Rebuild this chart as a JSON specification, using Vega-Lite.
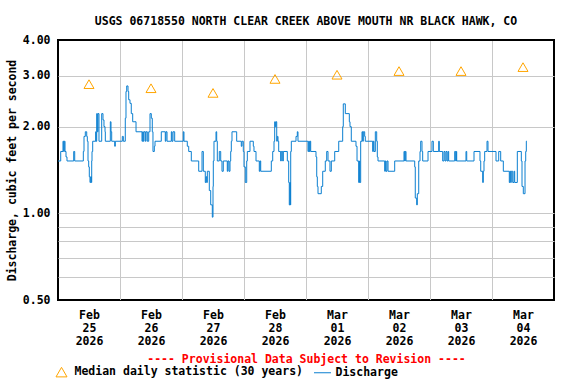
{
  "$schema": "https://vega.github.io/schema/vega-lite/v6.json",
  "width": 496,
  "height": 260,
  "autosize": {"type": "none"},
  "padding": {"left": 58, "top": 40, "right": 22, "bottom": 84},
  "background": "white",
  "config": {
    "view": {"stroke": "black", "strokeWidth": 2},
    "font": "DejaVu Sans Mono",
    "legend": {
      "orient": "none",
      "legendX": -2.5,
      "legendY": 326,
      "direction": "horizontal",
      "padding": 0,
      "labelFont": "DejaVu Sans Mono",
      "labelFontSize": 11.5,
      "labelFontWeight": "bold",
      "labelColor": "black",
      "labelOffset": 7,
      "labelLimit": 400,
      "columnPadding": 8,
      "symbolSize": 289,
      "symbolStrokeWidth": 1
    }
  },
  "title": {
    "text": "USGS 06718550 NORTH CLEAR CREEK ABOVE MOUTH NR BLACK HAWK, CO",
    "font": "DejaVu Sans Mono",
    "fontSize": 11.5,
    "fontWeight": "bold",
    "color": "black",
    "anchor": "middle",
    "offset": 7
  },
  "datasets": {
    "median": [
      {"t": "2026-02-25T12:00", "q": 2.81, "s": "Median daily statistic (30 years)"},
      {"t": "2026-02-26T12:00", "q": 2.72, "s": "Median daily statistic (30 years)"},
      {"t": "2026-02-27T12:00", "q": 2.62, "s": "Median daily statistic (30 years)"},
      {"t": "2026-02-28T12:00", "q": 2.93, "s": "Median daily statistic (30 years)"},
      {"t": "2026-03-01T12:00", "q": 3.03, "s": "Median daily statistic (30 years)"},
      {"t": "2026-03-02T12:00", "q": 3.12, "s": "Median daily statistic (30 years)"},
      {"t": "2026-03-03T12:00", "q": 3.12, "s": "Median daily statistic (30 years)"},
      {"t": "2026-03-04T12:00", "q": 3.22, "s": "Median daily statistic (30 years)"}
    ],
    "discharge": [
      {"t": "2026-02-25T00:00", "q": 1.52, "s": "Discharge"},
      {"t": "2026-02-25T01:03", "q": 1.64, "s": "Discharge"},
      {"t": "2026-02-25T01:56", "q": 1.78, "s": "Discharge"},
      {"t": "2026-02-25T02:12", "q": 1.64, "s": "Discharge"},
      {"t": "2026-02-25T02:26", "q": 1.78, "s": "Discharge"},
      {"t": "2026-02-25T02:43", "q": 1.64, "s": "Discharge"},
      {"t": "2026-02-25T03:06", "q": 1.57, "s": "Discharge"},
      {"t": "2026-02-25T03:29", "q": 1.52, "s": "Discharge"},
      {"t": "2026-02-25T06:05", "q": 1.64, "s": "Discharge"},
      {"t": "2026-02-25T06:28", "q": 1.52, "s": "Discharge"},
      {"t": "2026-02-25T09:48", "q": 1.64, "s": "Discharge"},
      {"t": "2026-02-25T10:04", "q": 1.85, "s": "Discharge"},
      {"t": "2026-02-25T10:34", "q": 1.92, "s": "Discharge"},
      {"t": "2026-02-25T11:07", "q": 1.85, "s": "Discharge"},
      {"t": "2026-02-25T11:21", "q": 1.78, "s": "Discharge"},
      {"t": "2026-02-25T11:37", "q": 1.52, "s": "Discharge"},
      {"t": "2026-02-25T11:53", "q": 1.45, "s": "Discharge"},
      {"t": "2026-02-25T12:07", "q": 1.34, "s": "Discharge"},
      {"t": "2026-02-25T12:23", "q": 1.28, "s": "Discharge"},
      {"t": "2026-02-25T12:40", "q": 1.34, "s": "Discharge"},
      {"t": "2026-02-25T12:53", "q": 1.28, "s": "Discharge"},
      {"t": "2026-02-25T13:03", "q": 1.52, "s": "Discharge"},
      {"t": "2026-02-25T13:10", "q": 1.64, "s": "Discharge"},
      {"t": "2026-02-25T13:26", "q": 1.78, "s": "Discharge"},
      {"t": "2026-02-25T14:36", "q": 1.92, "s": "Discharge"},
      {"t": "2026-02-25T14:43", "q": 1.78, "s": "Discharge"},
      {"t": "2026-02-25T14:59", "q": 2.22, "s": "Discharge"},
      {"t": "2026-02-25T15:13", "q": 1.92, "s": "Discharge"},
      {"t": "2026-02-25T15:29", "q": 2.22, "s": "Discharge"},
      {"t": "2026-02-25T15:52", "q": 1.78, "s": "Discharge"},
      {"t": "2026-02-25T16:55", "q": 2.22, "s": "Discharge"},
      {"t": "2026-02-25T17:25", "q": 2.11, "s": "Discharge"},
      {"t": "2026-02-25T17:48", "q": 2.0, "s": "Discharge"},
      {"t": "2026-02-25T18:12", "q": 1.92, "s": "Discharge"},
      {"t": "2026-02-25T18:19", "q": 1.78, "s": "Discharge"},
      {"t": "2026-02-25T20:15", "q": 2.08, "s": "Discharge"},
      {"t": "2026-02-25T20:31", "q": 1.92, "s": "Discharge"},
      {"t": "2026-02-25T20:47", "q": 1.78, "s": "Discharge"},
      {"t": "2026-02-25T21:57", "q": 1.71, "s": "Discharge"},
      {"t": "2026-02-25T22:11", "q": 1.78, "s": "Discharge"},
      {"t": "2026-02-26T00:53", "q": 1.85, "s": "Discharge"},
      {"t": "2026-02-26T01:17", "q": 1.78, "s": "Discharge"},
      {"t": "2026-02-26T02:03", "q": 2.14, "s": "Discharge"},
      {"t": "2026-02-26T02:19", "q": 2.65, "s": "Discharge"},
      {"t": "2026-02-26T02:36", "q": 2.77, "s": "Discharge"},
      {"t": "2026-02-26T03:06", "q": 2.65, "s": "Discharge"},
      {"t": "2026-02-26T03:22", "q": 2.48, "s": "Discharge"},
      {"t": "2026-02-26T03:52", "q": 2.41, "s": "Discharge"},
      {"t": "2026-02-26T04:22", "q": 2.22, "s": "Discharge"},
      {"t": "2026-02-26T04:55", "q": 2.08, "s": "Discharge"},
      {"t": "2026-02-26T06:12", "q": 1.92, "s": "Discharge"},
      {"t": "2026-02-26T08:31", "q": 1.78, "s": "Discharge"},
      {"t": "2026-02-26T08:47", "q": 1.92, "s": "Discharge"},
      {"t": "2026-02-26T09:01", "q": 1.78, "s": "Discharge"},
      {"t": "2026-02-26T09:17", "q": 1.92, "s": "Discharge"},
      {"t": "2026-02-26T09:48", "q": 1.78, "s": "Discharge"},
      {"t": "2026-02-26T10:04", "q": 1.92, "s": "Discharge"},
      {"t": "2026-02-26T10:34", "q": 1.78, "s": "Discharge"},
      {"t": "2026-02-26T11:07", "q": 1.92, "s": "Discharge"},
      {"t": "2026-02-26T11:37", "q": 2.22, "s": "Discharge"},
      {"t": "2026-02-26T12:07", "q": 2.14, "s": "Discharge"},
      {"t": "2026-02-26T12:30", "q": 1.92, "s": "Discharge"},
      {"t": "2026-02-26T12:46", "q": 1.64, "s": "Discharge"},
      {"t": "2026-02-26T13:17", "q": 1.71, "s": "Discharge"},
      {"t": "2026-02-26T13:33", "q": 1.78, "s": "Discharge"},
      {"t": "2026-02-26T15:59", "q": 1.92, "s": "Discharge"},
      {"t": "2026-02-26T17:32", "q": 1.78, "s": "Discharge"},
      {"t": "2026-02-26T17:48", "q": 1.92, "s": "Discharge"},
      {"t": "2026-02-26T18:12", "q": 1.78, "s": "Discharge"},
      {"t": "2026-02-26T19:52", "q": 1.92, "s": "Discharge"},
      {"t": "2026-02-26T20:08", "q": 1.78, "s": "Discharge"},
      {"t": "2026-02-26T20:31", "q": 1.92, "s": "Discharge"},
      {"t": "2026-02-26T21:10", "q": 1.78, "s": "Discharge"},
      {"t": "2026-02-27T00:30", "q": 1.92, "s": "Discharge"},
      {"t": "2026-02-27T00:46", "q": 1.78, "s": "Discharge"},
      {"t": "2026-02-27T02:03", "q": 1.71, "s": "Discharge"},
      {"t": "2026-02-27T02:36", "q": 1.64, "s": "Discharge"},
      {"t": "2026-02-27T03:36", "q": 1.52, "s": "Discharge"},
      {"t": "2026-02-27T06:28", "q": 1.4, "s": "Discharge"},
      {"t": "2026-02-27T07:45", "q": 1.64, "s": "Discharge"},
      {"t": "2026-02-27T08:15", "q": 1.4, "s": "Discharge"},
      {"t": "2026-02-27T09:01", "q": 1.28, "s": "Discharge"},
      {"t": "2026-02-27T09:17", "q": 1.34, "s": "Discharge"},
      {"t": "2026-02-27T09:34", "q": 1.28, "s": "Discharge"},
      {"t": "2026-02-27T09:48", "q": 1.4, "s": "Discharge"},
      {"t": "2026-02-27T10:34", "q": 1.2, "s": "Discharge"},
      {"t": "2026-02-27T11:07", "q": 1.07, "s": "Discharge"},
      {"t": "2026-02-27T11:44", "q": 0.97, "s": "Discharge"},
      {"t": "2026-02-27T12:00", "q": 1.24, "s": "Discharge"},
      {"t": "2026-02-27T12:07", "q": 1.52, "s": "Discharge"},
      {"t": "2026-02-27T12:23", "q": 1.78, "s": "Discharge"},
      {"t": "2026-02-27T13:10", "q": 1.92, "s": "Discharge"},
      {"t": "2026-02-27T13:26", "q": 1.78, "s": "Discharge"},
      {"t": "2026-02-27T13:40", "q": 1.52, "s": "Discharge"},
      {"t": "2026-02-27T14:26", "q": 1.64, "s": "Discharge"},
      {"t": "2026-02-27T14:59", "q": 1.52, "s": "Discharge"},
      {"t": "2026-02-27T15:29", "q": 1.4, "s": "Discharge"},
      {"t": "2026-02-27T15:59", "q": 1.52, "s": "Discharge"},
      {"t": "2026-02-27T17:32", "q": 1.4, "s": "Discharge"},
      {"t": "2026-02-27T17:48", "q": 1.52, "s": "Discharge"},
      {"t": "2026-02-27T18:12", "q": 1.4, "s": "Discharge"},
      {"t": "2026-02-27T18:35", "q": 1.52, "s": "Discharge"},
      {"t": "2026-02-27T18:51", "q": 1.64, "s": "Discharge"},
      {"t": "2026-02-27T19:05", "q": 1.78, "s": "Discharge"},
      {"t": "2026-02-27T19:21", "q": 1.92, "s": "Discharge"},
      {"t": "2026-02-27T21:10", "q": 1.78, "s": "Discharge"},
      {"t": "2026-02-27T22:57", "q": 1.71, "s": "Discharge"},
      {"t": "2026-02-27T23:14", "q": 1.78, "s": "Discharge"},
      {"t": "2026-02-27T23:44", "q": 1.64, "s": "Discharge"},
      {"t": "2026-02-28T00:00", "q": 1.45, "s": "Discharge"},
      {"t": "2026-02-28T00:30", "q": 1.28, "s": "Discharge"},
      {"t": "2026-02-28T01:03", "q": 1.52, "s": "Discharge"},
      {"t": "2026-02-28T01:17", "q": 1.64, "s": "Discharge"},
      {"t": "2026-02-28T02:19", "q": 1.78, "s": "Discharge"},
      {"t": "2026-02-28T03:36", "q": 1.71, "s": "Discharge"},
      {"t": "2026-02-28T03:52", "q": 1.64, "s": "Discharge"},
      {"t": "2026-02-28T04:39", "q": 1.52, "s": "Discharge"},
      {"t": "2026-02-28T05:55", "q": 1.4, "s": "Discharge"},
      {"t": "2026-02-28T06:12", "q": 1.52, "s": "Discharge"},
      {"t": "2026-02-28T06:28", "q": 1.4, "s": "Discharge"},
      {"t": "2026-02-28T10:34", "q": 1.52, "s": "Discharge"},
      {"t": "2026-02-28T11:07", "q": 1.64, "s": "Discharge"},
      {"t": "2026-02-28T11:37", "q": 1.78, "s": "Discharge"},
      {"t": "2026-02-28T11:53", "q": 2.08, "s": "Discharge"},
      {"t": "2026-02-28T12:07", "q": 2.0, "s": "Discharge"},
      {"t": "2026-02-28T12:23", "q": 2.08, "s": "Discharge"},
      {"t": "2026-02-28T12:40", "q": 1.78, "s": "Discharge"},
      {"t": "2026-02-28T12:53", "q": 1.85, "s": "Discharge"},
      {"t": "2026-02-28T13:10", "q": 1.78, "s": "Discharge"},
      {"t": "2026-02-28T13:26", "q": 1.64, "s": "Discharge"},
      {"t": "2026-02-28T14:12", "q": 1.52, "s": "Discharge"},
      {"t": "2026-02-28T14:26", "q": 1.64, "s": "Discharge"},
      {"t": "2026-02-28T14:59", "q": 1.52, "s": "Discharge"},
      {"t": "2026-02-28T15:13", "q": 1.64, "s": "Discharge"},
      {"t": "2026-02-28T16:46", "q": 1.52, "s": "Discharge"},
      {"t": "2026-02-28T17:18", "q": 1.28, "s": "Discharge"},
      {"t": "2026-02-28T17:32", "q": 1.07, "s": "Discharge"},
      {"t": "2026-02-28T17:49", "q": 1.28, "s": "Discharge"},
      {"t": "2026-02-28T17:55", "q": 1.07, "s": "Discharge"},
      {"t": "2026-02-28T18:05", "q": 1.64, "s": "Discharge"},
      {"t": "2026-02-28T18:19", "q": 1.78, "s": "Discharge"},
      {"t": "2026-02-28T20:08", "q": 1.85, "s": "Discharge"},
      {"t": "2026-02-28T20:38", "q": 1.92, "s": "Discharge"},
      {"t": "2026-02-28T20:54", "q": 1.78, "s": "Discharge"},
      {"t": "2026-03-01T00:46", "q": 1.64, "s": "Discharge"},
      {"t": "2026-03-01T01:03", "q": 1.78, "s": "Discharge"},
      {"t": "2026-03-01T01:17", "q": 1.64, "s": "Discharge"},
      {"t": "2026-03-01T01:33", "q": 1.78, "s": "Discharge"},
      {"t": "2026-03-01T01:49", "q": 1.64, "s": "Discharge"},
      {"t": "2026-03-01T03:52", "q": 1.57, "s": "Discharge"},
      {"t": "2026-03-01T04:09", "q": 1.34, "s": "Discharge"},
      {"t": "2026-03-01T04:23", "q": 1.24, "s": "Discharge"},
      {"t": "2026-03-01T04:39", "q": 1.17, "s": "Discharge"},
      {"t": "2026-03-01T05:55", "q": 1.24, "s": "Discharge"},
      {"t": "2026-03-01T06:28", "q": 1.4, "s": "Discharge"},
      {"t": "2026-03-01T07:28", "q": 1.52, "s": "Discharge"},
      {"t": "2026-03-01T08:01", "q": 1.64, "s": "Discharge"},
      {"t": "2026-03-01T08:31", "q": 1.52, "s": "Discharge"},
      {"t": "2026-03-01T09:17", "q": 1.4, "s": "Discharge"},
      {"t": "2026-03-01T09:48", "q": 1.52, "s": "Discharge"},
      {"t": "2026-03-01T11:07", "q": 1.64, "s": "Discharge"},
      {"t": "2026-03-01T12:40", "q": 1.78, "s": "Discharge"},
      {"t": "2026-03-01T14:12", "q": 2.0, "s": "Discharge"},
      {"t": "2026-03-01T14:26", "q": 2.4, "s": "Discharge"},
      {"t": "2026-03-01T15:13", "q": 2.22, "s": "Discharge"},
      {"t": "2026-03-01T16:46", "q": 2.08, "s": "Discharge"},
      {"t": "2026-03-01T17:02", "q": 2.0, "s": "Discharge"},
      {"t": "2026-03-01T17:32", "q": 1.78, "s": "Discharge"},
      {"t": "2026-03-01T19:21", "q": 1.71, "s": "Discharge"},
      {"t": "2026-03-01T19:45", "q": 1.52, "s": "Discharge"},
      {"t": "2026-03-01T20:24", "q": 1.28, "s": "Discharge"},
      {"t": "2026-03-01T20:38", "q": 1.52, "s": "Discharge"},
      {"t": "2026-03-01T20:47", "q": 1.28, "s": "Discharge"},
      {"t": "2026-03-01T21:10", "q": 1.78, "s": "Discharge"},
      {"t": "2026-03-01T21:41", "q": 1.92, "s": "Discharge"},
      {"t": "2026-03-01T21:57", "q": 1.78, "s": "Discharge"},
      {"t": "2026-03-01T22:11", "q": 1.92, "s": "Discharge"},
      {"t": "2026-03-01T22:43", "q": 1.85, "s": "Discharge"},
      {"t": "2026-03-01T22:57", "q": 1.78, "s": "Discharge"},
      {"t": "2026-03-02T01:49", "q": 1.64, "s": "Discharge"},
      {"t": "2026-03-02T02:03", "q": 1.78, "s": "Discharge"},
      {"t": "2026-03-02T02:19", "q": 1.64, "s": "Discharge"},
      {"t": "2026-03-02T02:50", "q": 1.92, "s": "Discharge"},
      {"t": "2026-03-02T03:22", "q": 1.78, "s": "Discharge"},
      {"t": "2026-03-02T03:36", "q": 1.57, "s": "Discharge"},
      {"t": "2026-03-02T03:52", "q": 1.52, "s": "Discharge"},
      {"t": "2026-03-02T06:28", "q": 1.4, "s": "Discharge"},
      {"t": "2026-03-02T06:42", "q": 1.52, "s": "Discharge"},
      {"t": "2026-03-02T06:58", "q": 1.4, "s": "Discharge"},
      {"t": "2026-03-02T07:21", "q": 1.52, "s": "Discharge"},
      {"t": "2026-03-02T07:45", "q": 1.4, "s": "Discharge"},
      {"t": "2026-03-02T10:20", "q": 1.52, "s": "Discharge"},
      {"t": "2026-03-02T13:56", "q": 1.64, "s": "Discharge"},
      {"t": "2026-03-02T14:12", "q": 1.52, "s": "Discharge"},
      {"t": "2026-03-02T14:26", "q": 1.64, "s": "Discharge"},
      {"t": "2026-03-02T14:43", "q": 1.52, "s": "Discharge"},
      {"t": "2026-03-02T18:05", "q": 1.45, "s": "Discharge"},
      {"t": "2026-03-02T18:18", "q": 1.13, "s": "Discharge"},
      {"t": "2026-03-02T18:51", "q": 1.07, "s": "Discharge"},
      {"t": "2026-03-02T19:05", "q": 1.17, "s": "Discharge"},
      {"t": "2026-03-02T19:38", "q": 1.52, "s": "Discharge"},
      {"t": "2026-03-02T20:08", "q": 1.64, "s": "Discharge"},
      {"t": "2026-03-02T20:24", "q": 1.78, "s": "Discharge"},
      {"t": "2026-03-02T20:54", "q": 1.64, "s": "Discharge"},
      {"t": "2026-03-02T21:10", "q": 1.52, "s": "Discharge"},
      {"t": "2026-03-02T23:14", "q": 1.64, "s": "Discharge"},
      {"t": "2026-03-03T00:46", "q": 1.78, "s": "Discharge"},
      {"t": "2026-03-03T01:17", "q": 1.64, "s": "Discharge"},
      {"t": "2026-03-03T03:22", "q": 1.78, "s": "Discharge"},
      {"t": "2026-03-03T03:36", "q": 1.64, "s": "Discharge"},
      {"t": "2026-03-03T04:55", "q": 1.52, "s": "Discharge"},
      {"t": "2026-03-03T05:25", "q": 1.64, "s": "Discharge"},
      {"t": "2026-03-03T05:48", "q": 1.52, "s": "Discharge"},
      {"t": "2026-03-03T06:12", "q": 1.64, "s": "Discharge"},
      {"t": "2026-03-03T06:35", "q": 1.52, "s": "Discharge"},
      {"t": "2026-03-03T06:58", "q": 1.64, "s": "Discharge"},
      {"t": "2026-03-03T07:14", "q": 1.52, "s": "Discharge"},
      {"t": "2026-03-03T09:34", "q": 1.64, "s": "Discharge"},
      {"t": "2026-03-03T09:57", "q": 1.52, "s": "Discharge"},
      {"t": "2026-03-03T10:11", "q": 1.64, "s": "Discharge"},
      {"t": "2026-03-03T10:20", "q": 1.52, "s": "Discharge"},
      {"t": "2026-03-03T13:56", "q": 1.64, "s": "Discharge"},
      {"t": "2026-03-03T14:13", "q": 1.52, "s": "Discharge"},
      {"t": "2026-03-03T17:02", "q": 1.64, "s": "Discharge"},
      {"t": "2026-03-03T19:21", "q": 1.52, "s": "Discharge"},
      {"t": "2026-03-03T19:38", "q": 1.4, "s": "Discharge"},
      {"t": "2026-03-03T20:24", "q": 1.28, "s": "Discharge"},
      {"t": "2026-03-03T20:38", "q": 1.4, "s": "Discharge"},
      {"t": "2026-03-03T20:54", "q": 1.52, "s": "Discharge"},
      {"t": "2026-03-03T21:10", "q": 1.64, "s": "Discharge"},
      {"t": "2026-03-03T22:04", "q": 1.78, "s": "Discharge"},
      {"t": "2026-03-03T22:27", "q": 1.64, "s": "Discharge"},
      {"t": "2026-03-04T01:33", "q": 1.52, "s": "Discharge"},
      {"t": "2026-03-04T02:36", "q": 1.64, "s": "Discharge"},
      {"t": "2026-03-04T03:22", "q": 1.52, "s": "Discharge"},
      {"t": "2026-03-04T04:23", "q": 1.4, "s": "Discharge"},
      {"t": "2026-03-04T06:42", "q": 1.28, "s": "Discharge"},
      {"t": "2026-03-04T06:58", "q": 1.4, "s": "Discharge"},
      {"t": "2026-03-04T07:14", "q": 1.28, "s": "Discharge"},
      {"t": "2026-03-04T07:28", "q": 1.4, "s": "Discharge"},
      {"t": "2026-03-04T08:01", "q": 1.28, "s": "Discharge"},
      {"t": "2026-03-04T08:31", "q": 1.4, "s": "Discharge"},
      {"t": "2026-03-04T08:47", "q": 1.28, "s": "Discharge"},
      {"t": "2026-03-04T09:48", "q": 1.64, "s": "Discharge"},
      {"t": "2026-03-04T11:21", "q": 1.52, "s": "Discharge"},
      {"t": "2026-03-04T11:37", "q": 1.24, "s": "Discharge"},
      {"t": "2026-03-04T12:07", "q": 1.17, "s": "Discharge"},
      {"t": "2026-03-04T12:47", "q": 1.52, "s": "Discharge"},
      {"t": "2026-03-04T13:03", "q": 1.64, "s": "Discharge"},
      {"t": "2026-03-04T13:17", "q": 1.78, "s": "Discharge"},
      {"t": "2026-03-04T13:33", "q": 1.78, "s": "Discharge"}
    ]
  },
  "encoding": {
    "x": {
      "field": "t",
      "type": "temporal",
      "scale": {
        "domain": [
          {"year": 2026, "month": "feb", "date": 25},
          {"year": 2026, "month": "mar", "date": 5}
        ],
        "nice": false
      },
      "axis": {
        "values": [
          {"year": 2026, "month": "feb", "date": 25},
          {"year": 2026, "month": "feb", "date": 26},
          {"year": 2026, "month": "feb", "date": 27},
          {"year": 2026, "month": "feb", "date": 28},
          {"year": 2026, "month": "mar", "date": 1},
          {"year": 2026, "month": "mar", "date": 2},
          {"year": 2026, "month": "mar", "date": 3},
          {"year": 2026, "month": "mar", "date": 4}
        ],
        "labelExpr": "[timeFormat(datum.value, '%b'), timeFormat(datum.value, '%d'), timeFormat(datum.value, '%Y')]",
        "labelOffset": 31,
        "ticks": false,
        "domain": false,
        "grid": true,
        "gridColor": {
          "condition": {"test": "+datum.value < +datetime(2026, 1, 25, 1)", "value": "black"},
          "value": "#c8c8c8"
        },
        "gridWidth": 1,
        "labelPadding": 9,
        "labelLineHeight": 13,
        "labelBaseline": "top",
        "labelAlign": "center",
        "labelFont": "DejaVu Sans Mono",
        "labelFontSize": 11.5,
        "labelFontWeight": "bold",
        "labelColor": "black",
        "labelOverlap": false,
        "labelFlush": false,
        "labelBound": false,
        "title": "---- Provisional Data Subject to Revision ----",
        "titleColor": "#ff0000",
        "titleFont": "DejaVu Sans Mono",
        "titleFontSize": 11.5,
        "titleFontWeight": "bold",
        "titlePadding": 7
      }
    },
    "y": {
      "field": "q",
      "type": "quantitative",
      "scale": {"type": "log", "domain": [0.5, 4], "nice": false},
      "axis": {
        "values": [0.5, 0.6, 0.7, 0.8, 0.9, 1, 2, 3, 4],
        "labelExpr": "indexof([0.5, 1, 2, 3, 4], datum.value) >= 0 ? format(datum.value, '.2f') : ''",
        "ticks": false,
        "domain": false,
        "grid": true,
        "gridColor": {
          "condition": {"test": "datum.value === 4 || datum.value === 0.5", "value": "black"},
          "value": "#c8c8c8"
        },
        "gridWidth": 1,
        "labelPadding": 8,
        "labelFont": "DejaVu Sans Mono",
        "labelFontSize": 11.5,
        "labelFontWeight": "bold",
        "labelColor": "black",
        "labelOverlap": false,
        "labelFlush": false,
        "title": "Discharge, cubic feet per second",
        "titleColor": "black",
        "titleFont": "DejaVu Sans Mono",
        "titleFontSize": 11.5,
        "titleFontWeight": "bold",
        "titlePadding": 5
      }
    },
    "color": {
      "field": "s",
      "type": "nominal",
      "scale": {
        "domain": ["Median daily statistic (30 years)", "Discharge"],
        "range": ["#ffa500", "#0b7fd0"]
      },
      "legend": {
        "title": null,
        "symbolType": "triangle-up",
        "encode": {
          "symbols": {
            "update": {
              "size": {"signal": "datum.value === 'Discharge' ? 289 : 121"},
              "shape": {"signal": "datum.value === 'Discharge' ? 'stroke' : 'triangle-up'"}
            }
          }
        }
      }
    }
  },
  "layer": [
    {
      "data": {"name": "discharge"},
      "mark": {"type": "line", "interpolate": "step-after", "strokeWidth": 1}
    },
    {
      "data": {"name": "median"},
      "mark": {"type": "point", "shape": "triangle-up", "filled": false, "size": 100, "strokeWidth": 1, "opacity": 1}
    }
  ]
}
